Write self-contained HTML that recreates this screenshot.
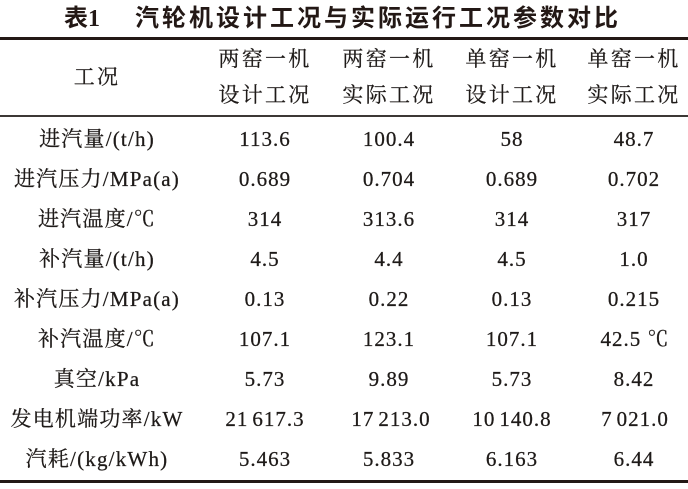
<!DOCTYPE html>
<html>
<head>
<meta charset="utf-8">
<style>
html,body{margin:0;padding:0;background:#fff;}
body{width:688px;height:489px;position:relative;overflow:hidden;}
.r{position:absolute;left:0;width:688px;background:#231815;}
.t{position:absolute;white-space:nowrap;color:#231815;}
.c{position:absolute;height:40px;line-height:40px;text-align:center;white-space:nowrap;color:#1e1a18;
  font-family:"Liberation Serif","Noto Serif CJK SC",serif;font-size:21px;-webkit-text-stroke:0.25px #1e1a18;}
.h{letter-spacing:2.3px;}
.l{letter-spacing:1.2px;}
.n{letter-spacing:1px;}
.g{display:inline-block;width:4px;}
</style>
</head>
<body>
<div class="t" style="left:64px;top:0;height:32px;line-height:32px;font-size:24px;font-weight:bold;font-family:'Liberation Serif','Noto Sans CJK SC',sans-serif;"><span style="font-family:'Noto Sans CJK SC',sans-serif;">表</span>1</div>
<div class="t" style="left:135px;top:0;height:32px;line-height:32px;font-size:24px;font-weight:bold;letter-spacing:3px;font-family:'Noto Sans CJK SC',sans-serif;">汽轮机设计工况与实际运行工况参数对比</div>

<div class="r" style="top:37px;height:3px;"></div>
<div class="r" style="top:115px;height:2px;background:#3c3835;"></div>
<div class="r" style="top:480px;height:3px;"></div>

<!-- header -->
<div class="c h" style="left:17px;width:160px;top:57px;">工况</div>
<div class="c h" style="left:205px;width:120px;top:39px;">两窑一机</div>
<div class="c h" style="left:205px;width:120px;top:75px;">设计工况</div>
<div class="c h" style="left:329px;width:120px;top:39px;">两窑一机</div>
<div class="c h" style="left:329px;width:120px;top:75px;">实际工况</div>
<div class="c h" style="left:452px;width:120px;top:39px;">单窑一机</div>
<div class="c h" style="left:452px;width:120px;top:75px;">设计工况</div>
<div class="c h" style="left:574px;width:120px;top:39px;">单窑一机</div>
<div class="c h" style="left:574px;width:120px;top:75px;">实际工况</div>

<!-- rows -->
<div class="c l" style="left:-3px;width:200px;top:118.5px;">进汽量/(t/h)</div>
<div class="c n" style="left:205px;width:120px;top:118.5px;">113.6</div>
<div class="c n" style="left:329px;width:120px;top:118.5px;">100.4</div>
<div class="c n" style="left:452px;width:120px;top:118.5px;">58</div>
<div class="c n" style="left:574px;width:120px;top:118.5px;">48.7</div>

<div class="c l" style="left:-3px;width:200px;top:158.6px;">进汽压力/MPa(a)</div>
<div class="c n" style="left:205px;width:120px;top:158.6px;">0.689</div>
<div class="c n" style="left:329px;width:120px;top:158.6px;">0.704</div>
<div class="c n" style="left:452px;width:120px;top:158.6px;">0.689</div>
<div class="c n" style="left:574px;width:120px;top:158.6px;">0.702</div>

<div class="c l" style="left:-3px;width:200px;top:198.7px;">进汽温度/℃</div>
<div class="c n" style="left:205px;width:120px;top:198.7px;">314</div>
<div class="c n" style="left:329px;width:120px;top:198.7px;">313.6</div>
<div class="c n" style="left:452px;width:120px;top:198.7px;">314</div>
<div class="c n" style="left:574px;width:120px;top:198.7px;">317</div>

<div class="c l" style="left:-3px;width:200px;top:238.8px;">补汽量/(t/h)</div>
<div class="c n" style="left:205px;width:120px;top:238.8px;">4.5</div>
<div class="c n" style="left:329px;width:120px;top:238.8px;">4.4</div>
<div class="c n" style="left:452px;width:120px;top:238.8px;">4.5</div>
<div class="c n" style="left:574px;width:120px;top:238.8px;">1.0</div>

<div class="c l" style="left:-3px;width:200px;top:278.9px;">补汽压力/MPa(a)</div>
<div class="c n" style="left:205px;width:120px;top:278.9px;">0.13</div>
<div class="c n" style="left:329px;width:120px;top:278.9px;">0.22</div>
<div class="c n" style="left:452px;width:120px;top:278.9px;">0.13</div>
<div class="c n" style="left:574px;width:120px;top:278.9px;">0.215</div>

<div class="c l" style="left:-3px;width:200px;top:319px;">补汽温度/℃</div>
<div class="c n" style="left:205px;width:120px;top:319px;">107.1</div>
<div class="c n" style="left:329px;width:120px;top:319px;">123.1</div>
<div class="c n" style="left:452px;width:120px;top:319px;">107.1</div>
<div class="c n" style="left:575px;width:120px;top:319px;">42.5 ℃</div>

<div class="c l" style="left:-3px;width:200px;top:359.1px;">真空/kPa</div>
<div class="c n" style="left:205px;width:120px;top:359.1px;">5.73</div>
<div class="c n" style="left:329px;width:120px;top:359.1px;">9.89</div>
<div class="c n" style="left:452px;width:120px;top:359.1px;">5.73</div>
<div class="c n" style="left:574px;width:120px;top:359.1px;">8.42</div>

<div class="c l" style="left:-3px;width:200px;top:399.2px;">发电机端功率/kW</div>
<div class="c n" style="left:205px;width:120px;top:399.2px;">21<span class="g"></span>617.3</div>
<div class="c n" style="left:331px;width:120px;top:399.2px;">17<span class="g"></span>213.0</div>
<div class="c n" style="left:452px;width:120px;top:399.2px;">10<span class="g"></span>140.8</div>
<div class="c n" style="left:575px;width:120px;top:399.2px;">7<span class="g"></span>021.0</div>

<div class="c l" style="left:-3px;width:200px;top:439.3px;">汽耗/(kg/kWh)</div>
<div class="c n" style="left:205px;width:120px;top:439.3px;">5.463</div>
<div class="c n" style="left:329px;width:120px;top:439.3px;">5.833</div>
<div class="c n" style="left:452px;width:120px;top:439.3px;">6.163</div>
<div class="c n" style="left:574px;width:120px;top:439.3px;">6.44</div>
</body>
</html>
